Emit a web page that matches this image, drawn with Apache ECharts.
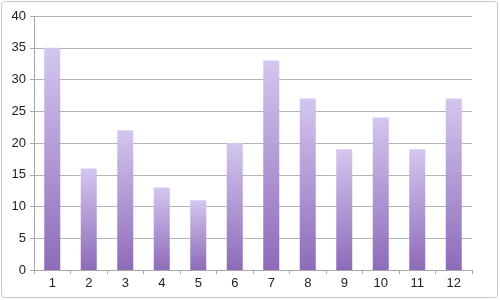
<!DOCTYPE html>
<html><head><meta charset="utf-8">
<script src="https://cdn.jsdelivr.net/npm/echarts@6/dist/echarts.min.js"></script>
<style>html,body{margin:0;padding:0;background:#fff}#c{width:500px;height:300px}</style>
</head><body><div id="c"></div>
<script>
const categories = ['1','2','3','4','5','6','7','8','9','10','11','12'];
const values = [35,16,22,13,11,20,33,27,19,24,19,27];
const yMin = 0, yMax = 40, yStep = 5;

const chart = echarts.init(document.getElementById('c'), null, {renderer:'canvas'});
chart.setOption({
  animation:false,
  graphic:[{type:'rect',shape:{x:1.5,y:1.5,width:496,height:296,r:3},style:{fill:'none',stroke:'#c8c8c8',lineWidth:1},silent:true}],
  grid:{left:34,right:28,top:16,bottom:30,containLabel:false},
  xAxis:{type:'category',data:categories,
    axisLine:{show:true,lineStyle:{color:'#a8a8a8',width:1}},
    axisTick:{show:true,alignWithLabel:false,length:4,lineStyle:{color:'#a8a8a8'}},
    axisLabel:{color:'#222',fontFamily:'Liberation Sans, Arial, sans-serif',fontSize:13,margin:7}},
  yAxis:{type:'value',min:yMin,max:yMax,interval:yStep,
    axisLine:{show:true,lineStyle:{color:'#a8a8a8',width:1}},
    axisTick:{show:true,length:4,lineStyle:{color:'#a8a8a8'}},
    splitLine:{show:true,lineStyle:{color:'#b4b4b4',width:1}},
    axisLabel:{color:'#222',fontFamily:'Liberation Sans, Arial, sans-serif',fontSize:13,margin:8}},
  series:[{type:'bar',data:values,barWidth:16,
    itemStyle:{color:new echarts.graphic.LinearGradient(0,0,0,1,[{offset:0,color:'#d4c6ef'},{offset:1,color:'#8d6bb9'}])}}]
});
</script></body></html>
